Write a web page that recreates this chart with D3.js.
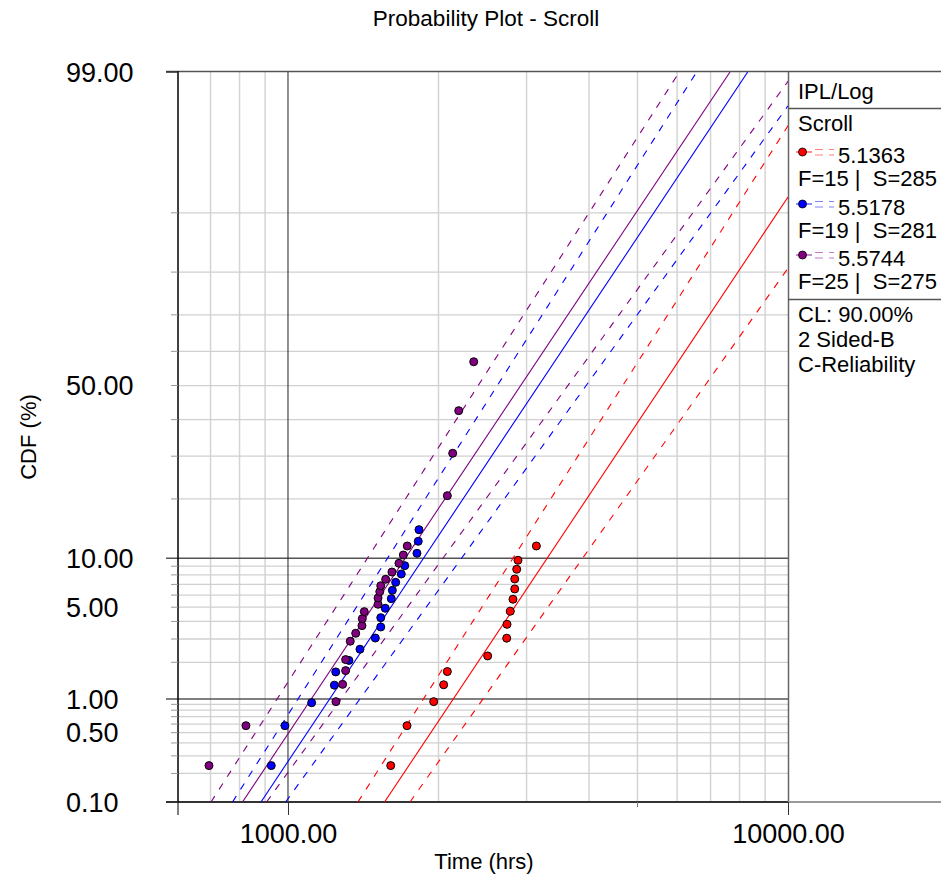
<!DOCTYPE html>
<html>
<head>
<meta charset="utf-8">
<script src="https://cdn.jsdelivr.net/npm/d3@7"></script>
<style>
  body { margin: 0; background: #fff; }
  text { font-family: "Liberation Sans", Arial, sans-serif; fill: #000; }
</style>
</head>
<body>
<svg id="chart" width="941" height="876"></svg>
<script>
// ---- data ----
const xDomain = [602.6, 10000];          // time, hrs (log)
const yDomain = [0.1, 99];               // CDF %, lognormal probability paper
const xTickLabels = [1000, 10000];
const xGridMinor = [700, 800, 900, 2000, 3000, 4000, 5000, 6000, 7000, 8000, 9000];
const yTickLabels = [99, 50, 10, 5, 1, 0.5, 0.1];
const yGridMinor = [0.2, 0.3, 0.4, 0.5, 0.6, 0.7, 0.8, 0.9,
                    2, 3, 4, 5, 6, 7, 8, 9,
                    20, 30, 40, 50, 60, 70, 80, 90];
const yGridMajor = [1, 10];

const redTimes = [1605, 1730, 1956, 2048, 2083, 2508, 2738, 2742, 2784, 2818, 2841, 2841, 2867, 2884, 3139];
const redCdf   = [0.24, 0.58, 0.95, 1.32, 1.69, 2.24, 3.04, 3.82, 4.70, 5.64, 6.56, 7.56, 8.64, 9.74, 11.69];

const blueTimes = [926, 986, 1115, 1238, 1246, 1324, 1393, 1495, 1533, 1533, 1565, 1609, 1617, 1642, 1685, 1712, 1811, 1822, 1828];
const blueCdf   = [0.24, 0.58, 0.93, 1.31, 1.68, 2.07, 2.52, 3.05, 3.66, 4.25, 4.92, 5.69, 6.43, 7.21, 8.10, 9.07, 10.66, 12.39, 14.24];

const purpleTimes = [695, 824, 1247, 1286, 1304, 1304, 1332, 1366, 1406, 1408, 1421, 1514, 1514, 1526, 1533, 1568, 1614, 1667, 1701, 1732, 2083, 2135, 2195, 2352];
const purpleCdf   = [0.24, 0.58, 0.95, 1.33, 1.72, 2.10, 2.89, 3.30, 3.74, 4.18, 4.67, 5.23, 5.75, 6.31, 6.87, 7.53, 8.32, 9.36, 10.43, 11.69, 20.69, 30.76, 42.6, 57.0];

// fitted line and 90% two-sided bounds: [[time, cdf%], [time, cdf%]]
const redFit   = [[1560, 0.1], [10000, 91.9]];
const redLow   = [[1380, 0.1], [10000, 97.3]];
const redHigh  = [[1754, 0.1], [10000, 80.8]];
const blueFit  = [[883, 0.1], [8307, 99]];
const blueLow  = [[774.5, 0.1], [6567, 99]];
const blueHigh = [[989, 0.1], [10000, 98.1]];
const purpleFit  = [[811, 0.1], [7656, 99]];
const purpleLow  = [[701.5, 0.1], [6063, 99]];
const purpleHigh = [[906, 0.1], [10000, 98.8]];

const legendValues = ["5.1363", "5.5178", "5.5744"];
const legendCounts = ["F=15 |  S=285", "F=19 |  S=281", "F=25 |  S=275"];
const seriesColors = ["#ff0000", "#0000ff", "#800080"];
const infoLines = ["CL: 90.00%", "2 Sided-B", "C-Reliability"];

// ---- inverse normal (Acklam) ----
function qnorm(p) {
  const a = [-3.969683028665376e+01, 2.209460984245205e+02, -2.759285104469687e+02, 1.383577518672690e+02, -3.066479806614716e+01, 2.506628277459239e+00];
  const b = [-5.447609879822406e+01, 1.615858368580409e+02, -1.556989798598866e+02, 6.680131188771972e+01, -1.328068155288572e+01];
  const c = [-7.784894002430293e-03, -3.223964580411365e-01, -2.400758277161838e+00, -2.549732539343734e+00, 4.374664141464968e+00, 2.938163982698783e+00];
  const d = [7.784695709041462e-03, 3.224671290700398e-01, 2.445134137142996e+00, 3.754408661907416e+00];
  const pl = 0.02425;
  let q, r;
  if (p < pl) {
    q = Math.sqrt(-2 * Math.log(p));
    return (((((c[0]*q+c[1])*q+c[2])*q+c[3])*q+c[4])*q+c[5]) / ((((d[0]*q+d[1])*q+d[2])*q+d[3])*q+1);
  } else if (p <= 1 - pl) {
    q = p - 0.5; r = q * q;
    return (((((a[0]*r+a[1])*r+a[2])*r+a[3])*r+a[4])*r+a[5])*q / (((((b[0]*r+b[1])*r+b[2])*r+b[3])*r+b[4])*r+1);
  }
  q = Math.sqrt(-2 * Math.log(1 - p));
  return -(((((c[0]*q+c[1])*q+c[2])*q+c[3])*q+c[4])*q+c[5]) / ((((d[0]*q+d[1])*q+d[2])*q+d[3])*q+1);
}

const L = 178, R = 788, T = 72, B = 802;
const svg = d3.select("#chart");

const x = d3.scaleLog().domain(xDomain).range([L, R]);
const yz = d3.scaleLinear().domain(yDomain.map(p => qnorm(p / 100))).range([B, T]);
const y = p => yz(qnorm(p / 100));

svg.append("defs").append("clipPath").attr("id", "plotclip")
  .append("rect").attr("x", L).attr("y", T).attr("width", R - L).attr("height", B - T);

// title
svg.append("text").attr("x", 486).attr("y", 26).attr("text-anchor", "middle")
  .style("font-size", "22.5px").text("Probability Plot - Scroll");

// grid
const grid = svg.append("g");
grid.selectAll(".vg").data(xGridMinor).join("line")
  .attr("x1", d => x(d)).attr("x2", d => x(d)).attr("y1", T).attr("y2", B)
  .attr("stroke", "#d4d4d4").attr("stroke-width", 1.5);
grid.selectAll(".hg").data(yGridMinor).join("line")
  .attr("x1", L).attr("x2", R).attr("y1", d => y(d)).attr("y2", d => y(d))
  .attr("stroke", "#d0d0d0").attr("stroke-width", 1.3);
grid.selectAll(".hm").data(yGridMajor).join("line")
  .attr("x1", 166).attr("x2", R).attr("y1", d => y(d)).attr("y2", d => y(d))
  .attr("stroke", "#555").attr("stroke-width", 1.5);
grid.append("line").attr("x1", x(1000)).attr("x2", x(1000)).attr("y1", T).attr("y2", B)
  .attr("stroke", "#222").attr("stroke-width", 1);

// frame
svg.append("line").attr("x1", 166).attr("x2", 941).attr("y1", T - 0.5).attr("y2", T - 0.5)
  .attr("stroke", "#555").attr("stroke-width", 1.5);
svg.append("line").attr("x1", R + 0.5).attr("x2", R + 0.5).attr("y1", T).attr("y2", B)
  .attr("stroke", "#666").attr("stroke-width", 1.5);
svg.append("line").attr("x1", R).attr("x2", 941).attr("y1", B).attr("y2", B)
  .attr("stroke", "#999").attr("stroke-width", 2);

// x axis
const xAxis = d3.axisBottom(x).tickValues(xTickLabels).tickSize(13).tickSizeOuter(0)
  .tickFormat(d3.format(".2f"));
const gx = svg.append("g").attr("transform", `translate(0,${B})`).call(xAxis);
gx.select(".domain").attr("d", `M166,0H${R}`).attr("stroke", "#333").attr("stroke-width", 2);
gx.selectAll(".tick line").attr("stroke", "#333");
gx.selectAll(".tick text").attr("dy", null).attr("y", 41)
  .style("font-size", "27px").style("font-family", "'Liberation Sans', Arial, sans-serif");
gx.append("line").attr("x1", L).attr("x2", L).attr("y1", 0).attr("y2", 13).attr("stroke", "#000");
gx.append("line").attr("x1", x(5000)).attr("x2", x(5000)).attr("y1", 0).attr("y2", 5).attr("stroke", "#777");

// y axis
svg.append("line").attr("x1", L).attr("x2", L).attr("y1", T - 1).attr("y2", B)
  .attr("stroke", "#000").attr("stroke-width", 1.5);
const gy = svg.append("g");
gy.selectAll(".mt").data(yGridMinor).join("line")
  .attr("x1", 171).attr("x2", L).attr("y1", d => y(d)).attr("y2", d => y(d))
  .attr("stroke", "#999");
gy.selectAll(".Mt").data([99, 0.1]).join("line")
  .attr("x1", 166).attr("x2", L).attr("y1", d => y(d)).attr("y2", d => y(d))
  .attr("stroke", "#333").attr("stroke-width", 1.5);
gy.selectAll("text").data(yTickLabels).join("text")
  .attr("x", 66).attr("y", d => y(d) + 9.5)
  .style("font-size", "27px").text(d => d3.format(".2f")(d));

// axis titles
svg.append("text").attr("x", 484).attr("y", 869).attr("text-anchor", "middle")
  .style("font-size", "22px").text("Time (hrs)");
svg.append("text").attr("transform", "translate(36,437) rotate(-90)").attr("text-anchor", "middle")
  .style("font-size", "22px").text("CDF (%)");

// fitted lines and bounds
const series = [
  { color: seriesColors[0], fit: redFit, low: redLow, high: redHigh, t: redTimes, f: redCdf },
  { color: seriesColors[1], fit: blueFit, low: blueLow, high: blueHigh, t: blueTimes, f: blueCdf },
  { color: seriesColors[2], fit: purpleFit, low: purpleLow, high: purpleHigh, t: purpleTimes, f: purpleCdf }
];
const lineGen = d3.line().x(d => x(d[0])).y(d => y(d[1]));
const plot = svg.append("g").attr("clip-path", "url(#plotclip)");
series.forEach(s => {
  plot.append("path").attr("d", lineGen(s.fit)).attr("fill", "none")
    .attr("stroke", s.color).attr("stroke-width", 1.1);
  [s.low, s.high].forEach(b => {
    plot.append("path").attr("d", lineGen(b)).attr("fill", "none")
      .attr("stroke", s.color).attr("stroke-width", 1.1).attr("stroke-dasharray", "7,8");
  });
});
series.forEach(s => {
  plot.selectAll(null).data(d3.zip(s.t, s.f)).join("circle")
    .attr("cx", d => x(d[0])).attr("cy", d => y(d[1])).attr("r", 4)
    .attr("fill", s.color).attr("stroke", "#000").attr("stroke-width", 1);
});

// legend
const lg = svg.append("g");
[108.5, 299.5].forEach(v => lg.append("line").attr("x1", R).attr("x2", 941)
  .attr("y1", v).attr("y2", v).attr("stroke", "#555").attr("stroke-width", 1.3));
lg.append("text").attr("x", 798).attr("y", 99).style("font-size", "22px").text("IPL/Log");
lg.append("text").attr("x", 798).attr("y", 131).style("font-size", "22px").text("Scroll");
const rowY = [152, 204, 255];
legendValues.forEach((v, i) => {
  const cy = rowY[i], c = seriesColors[i];
  lg.append("line").attr("x1", 796).attr("x2", 812).attr("y1", cy).attr("y2", cy)
    .attr("stroke", c).attr("stroke-opacity", 0.6).attr("stroke-width", 1.5);
  lg.append("circle").attr("cx", 802.5).attr("cy", cy).attr("r", 4)
    .attr("fill", c).attr("stroke", "#000").attr("stroke-width", 0.8);
  [-2.5, 3].forEach(o => lg.append("line").attr("x1", 815).attr("x2", 834)
    .attr("y1", cy + o).attr("y2", cy + o).attr("stroke", c).attr("stroke-opacity", 0.5)
    .attr("stroke-width", 1.2).attr("stroke-dasharray", "8,6"));
  lg.append("text").attr("x", 838).attr("y", cy + 11).style("font-size", "22px").text(v);
  lg.append("text").attr("x", 798).attr("y", cy + 34).style("font-size", "22px")
    .attr("xml:space", "preserve").style("white-space", "pre").text(legendCounts[i]);
});
infoLines.forEach((t, i) => lg.append("text").attr("x", 798).attr("y", 322 + i * 25)
  .style("font-size", "22px").text(t));
</script>
</body>
</html>
